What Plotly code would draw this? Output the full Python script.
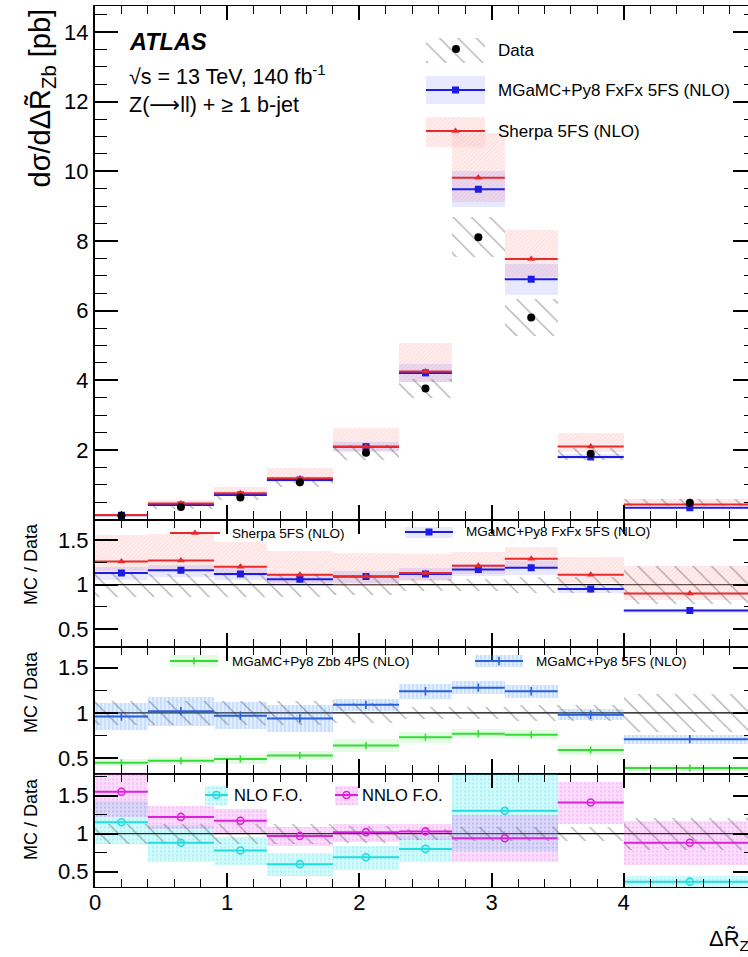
import plotly.graph_objects as go

# ---------------------------------------------------------------- data
# Bin edges of the ΔR̃_Zb measurement
bin_edges = [0.0, 0.4, 0.9, 1.3, 1.8, 2.3, 2.7, 3.1, 3.5, 4.0, 5.0]
# Fixed-order predictions are compared in merged bins around the peak
fo_edges = [0.0, 0.4, 0.9, 1.3, 1.8, 2.3, 2.7, 3.5, 4.0, 5.0]

# Unfolded data [pb] and relative total uncertainty
data_xsec = [0.105, 0.36, 0.63, 1.07, 1.92, 3.76, 8.11, 5.80, 1.89, 0.48]
data_rel_unc = [0.13, 0.13, 0.13, 0.13, 0.11, 0.07, 0.07, 0.09, 0.09, 0.21]
data_rel_unc_fo = [0.13, 0.13, 0.13, 0.13, 0.11, 0.07, 0.09, 0.09, 0.21]

# Sherpa 5FS (NLO): MC / Data and relative band
sherpa_ratio = [1.26, 1.27, 1.20, 1.11, 1.09, 1.13, 1.21, 1.29, 1.11, 0.90]
sherpa_unc_up = [0.24, 0.24, 0.24, 0.25, 0.25, 0.19, 0.13, 0.11, 0.18, 0.35]
sherpa_unc_dn = [0.08, 0.08, 0.08, 0.08, 0.08, 0.07, 0.07, 0.07, 0.08, 0.08]

# MGaMC+Py8 FxFx 5FS (NLO): MC / Data and relative band
fxfx_ratio = [1.13, 1.16, 1.12, 1.06, 1.09, 1.12, 1.17, 1.19, 0.95, 0.71]
fxfx_unc = [0.06, 0.06, 0.06, 0.06, 0.06, 0.06, 0.055, 0.065, 0.04, 0.03]

# MGaMC+Py8 Zbb 4FS (NLO) and MGaMC+Py8 5FS (NLO): MC / Data
zbb4fs_ratio = [0.45, 0.47, 0.49, 0.53, 0.64, 0.73, 0.77, 0.76, 0.59, 0.39]
zbb4fs_unc = [0.04, 0.04, 0.05, 0.05, 0.07, 0.06, 0.05, 0.05, 0.05, 0.03]
mg5fs_ratio = [0.96, 1.02, 0.97, 0.94, 1.09, 1.24, 1.28, 1.24, 0.98, 0.71]
mg5fs_unc = [0.15, 0.16, 0.15, 0.15, 0.07, 0.08, 0.07, 0.07, 0.06, 0.05]

# Fixed-order NLO / NNLO: MC / Data (NLO not shown in the 3.5-4.0 bin)
nlo_ratio = [1.15, 0.88, 0.78, 0.60, 0.69, 0.80, 1.30, None, 0.37]
nlo_unc = [0.28, 0.24, 0.18, 0.15, 0.16, 0.17, 0.52, None, 0.08]
nnlo_ratio = [1.55, 1.22, 1.17, 0.97, 1.02, 1.03, 0.94, 1.41, 0.88]
nnlo_unc = [0.33, 0.15, 0.16, 0.12, 0.12, 0.10, 0.31, 0.28, 0.29]

# ---------------------------------------------------------------- style
FONT = "Liberation Sans, Arial, Helvetica, sans-serif"
RED = "#e82a2a"
BLUE = "#1c1ce6"
BLUE2 = "#2a5fd6"
GREEN = "#33dd33"
CYAN = "#22dde0"
MAGENTA = "#dd22dd"

W, H = 748, 957
L, R, T, B = 95, 0, 6, 70
PW, PH = W - L - R, H - T - B


def px(xp):
    return (xp - L) / PW


def py(yp):
    return (T + PH - yp) / PH


def centers(edges):
    return [(a + b) / 2 for a, b in zip(edges[:-1], edges[1:])]


def widths(edges):
    return [b - a for a, b in zip(edges[:-1], edges[1:])]


ctr, wid = centers(bin_edges), widths(bin_edges)
fctr, fwid = centers(fo_edges), widths(fo_edges)

HATCH = dict(shape="\\", fgcolor="rgba(40,40,40,0.75)", bgcolor="rgba(0,0,0,0)",
             size=13, solidity=0.1)
SHERPA_PAT = dict(shape="/", fgcolor="rgba(255,120,120,0.35)",
                  bgcolor="rgba(255,205,205,0.35)", size=3, solidity=0.3)
FXFX_FILL = "rgba(80,80,255,0.13)"
MG5_PAT = dict(shape="|", fgcolor="rgba(70,140,255,0.45)",
               bgcolor="rgba(120,175,255,0.22)", size=4, solidity=0.35)
ZBB_FILL = "rgba(40,230,40,0.13)"
NLO_PAT = dict(shape=".", fgcolor="rgba(0,200,215,0.35)",
               bgcolor="rgba(60,235,240,0.22)", size=4, solidity=0.3)
NNLO_PAT = dict(shape=".", fgcolor="rgba(230,60,230,0.35)",
                bgcolor="rgba(245,120,245,0.25)", size=4, solidity=0.3)

fig = go.Figure()


def band(x, w, lo, hi, xa, ya, color=None, pattern=None):
    keep = [i for i in range(len(x)) if lo[i] is not None]
    marker = dict(line=dict(width=0))
    if pattern is not None:
        marker["color"] = pattern["fgcolor"]
        marker["pattern"] = pattern
    else:
        marker["color"] = color
    fig.add_trace(go.Bar(
        x=[x[i] for i in keep], width=[w[i] for i in keep],
        base=[lo[i] for i in keep], y=[hi[i] - lo[i] for i in keep],
        marker=marker, xaxis=xa, yaxis=ya, hoverinfo="skip"))


def hline(x, w, v, xa, ya, color, symbol, size, open_marker=False, lw=2):
    keep = [i for i in range(len(x)) if v[i] is not None]
    mk = dict(symbol=symbol, size=size, color=color)
    if open_marker or symbol.startswith("line"):
        mk["line"] = dict(color=color, width=1.6)
    fig.add_trace(go.Scatter(
        x=[x[i] for i in keep], y=[v[i] for i in keep], mode="markers",
        marker=mk, xaxis=xa, yaxis=ya,
        error_x=dict(type="data", array=[w[i] / 2 for i in keep],
                     color=color, thickness=lw, width=0)))


# ---------------------------------------------------------------- panel 1
sherpa_xsec = [d * r for d, r in zip(data_xsec, sherpa_ratio)]
fxfx_xsec = [d * r for d, r in zip(data_xsec, fxfx_ratio)]

band(ctr, wid, [s * (1 - d) for s, d in zip(sherpa_xsec, sherpa_unc_dn)],
     [s * (1 + u) for s, u in zip(sherpa_xsec, sherpa_unc_up)], "x", "y",
     pattern=SHERPA_PAT)
band(ctr, wid, [s * (1 - u) for s, u in zip(fxfx_xsec, fxfx_unc)],
     [s * (1 + u) for s, u in zip(fxfx_xsec, fxfx_unc)], "x", "y",
     color=FXFX_FILL)
band(ctr, wid, [d * (1 - u) for d, u in zip(data_xsec, data_rel_unc)],
     [d * (1 + u) for d, u in zip(data_xsec, data_rel_unc)], "x", "y",
     pattern=HATCH)
hline(ctr, wid, fxfx_xsec, "x", "y", BLUE, "square", 7)
hline(ctr, wid, sherpa_xsec, "x", "y", RED, "triangle-up", 7)
fig.add_trace(go.Scatter(x=ctr, y=data_xsec, mode="markers",
                         marker=dict(color="black", size=8),
                         xaxis="x", yaxis="y"))

# ---------------------------------------------------------------- panel 2
band(ctr, wid, [r * (1 - d) for r, d in zip(sherpa_ratio, sherpa_unc_dn)],
     [r * (1 + u) for r, u in zip(sherpa_ratio, sherpa_unc_up)], "x2", "y2",
     pattern=SHERPA_PAT)
band(ctr, wid, [r * (1 - u) for r, u in zip(fxfx_ratio, fxfx_unc)],
     [r * (1 + u) for r, u in zip(fxfx_ratio, fxfx_unc)], "x2", "y2",
     color=FXFX_FILL)
band(ctr, wid, [1 - u for u in data_rel_unc], [1 + u for u in data_rel_unc],
     "x2", "y2", pattern=HATCH)
hline(ctr, wid, fxfx_ratio, "x2", "y2", BLUE, "square", 7)
hline(ctr, wid, sherpa_ratio, "x2", "y2", RED, "triangle-up", 7)

# ---------------------------------------------------------------- panel 3
band(ctr, wid, [r - u for r, u in zip(zbb4fs_ratio, zbb4fs_unc)],
     [r + u for r, u in zip(zbb4fs_ratio, zbb4fs_unc)], "x3", "y3",
     color=ZBB_FILL)
band(ctr, wid, [r - u for r, u in zip(mg5fs_ratio, mg5fs_unc)],
     [r + u for r, u in zip(mg5fs_ratio, mg5fs_unc)], "x3", "y3",
     pattern=MG5_PAT)
band(ctr, wid, [1 - u for u in data_rel_unc], [1 + u for u in data_rel_unc],
     "x3", "y3", pattern=HATCH)
hline(ctr, wid, zbb4fs_ratio, "x3", "y3", GREEN, "line-ns", 5)
hline(ctr, wid, mg5fs_ratio, "x3", "y3", BLUE2, "line-ns", 6)

# ---------------------------------------------------------------- panel 4
band(fctr, fwid, [None if r is None else r - u for r, u in zip(nlo_ratio, nlo_unc)],
     [None if r is None else r + u for r, u in zip(nlo_ratio, nlo_unc)],
     "x4", "y4", pattern=NLO_PAT)
band(fctr, fwid, [r - u for r, u in zip(nnlo_ratio, nnlo_unc)],
     [r + u for r, u in zip(nnlo_ratio, nnlo_unc)], "x4", "y4", pattern=NNLO_PAT)
band(fctr, fwid, [1 - u for u in data_rel_unc_fo], [1 + u for u in data_rel_unc_fo],
     "x4", "y4", pattern=HATCH)
hline(fctr, fwid, nlo_ratio, "x4", "y4", CYAN, "circle-open", 7, open_marker=True)
hline(fctr, fwid, nnlo_ratio, "x4", "y4", MAGENTA, "circle-open", 7, open_marker=True)

# ---------------------------------------------------------------- legend glyphs
# drawn on an overlay axis spanning the whole plot area (0..1 in both directions)
def glyph_box(x0, x1, y0, y1, color=None, pattern=None):
    marker = dict(line=dict(width=0))
    if pattern is not None:
        marker["color"] = pattern["fgcolor"]
        marker["pattern"] = pattern
    else:
        marker["color"] = color
    fig.add_trace(go.Bar(x=[(px(x0) + px(x1)) / 2], width=[px(x1) - px(x0)],
                         base=[py(y1)], y=[py(y0) - py(y1)], marker=marker,
                         xaxis="x5", yaxis="y5", hoverinfo="skip"))


def glyph_line(x0, x1, y, color, symbol, size, open_marker=False):
    mk = dict(symbol=symbol, size=size, color=color)
    if open_marker or symbol.startswith("line"):
        mk["line"] = dict(color=color, width=1.6)
    fig.add_trace(go.Scatter(
        x=[(px(x0) + px(x1)) / 2], y=[py(y)], mode="markers", marker=mk,
        error_x=dict(type="data", array=[(px(x1) - px(x0)) / 2], color=color,
                     thickness=2, width=0),
        xaxis="x5", yaxis="y5"))


glyph_box(426, 485, 38, 63, pattern=HATCH)
fig.add_trace(go.Scatter(x=[px(456)], y=[py(49)], mode="markers",
                         marker=dict(color="black", size=8), xaxis="x5", yaxis="y5"))
glyph_box(426, 485, 76, 104, color=FXFX_FILL)
glyph_line(426, 485, 90, BLUE, "square", 7)
glyph_box(426, 485, 117, 147, pattern=SHERPA_PAT)
glyph_line(426, 485, 131, RED, "triangle-up", 7)

glyph_line(170, 220, 533, RED, "triangle-up", 7)
glyph_box(405, 453, 527, 538, color=FXFX_FILL)
glyph_line(405, 453, 532, BLUE, "square", 7)

glyph_box(170, 218, 655, 667, color=ZBB_FILL)
glyph_line(170, 218, 661, GREEN, "line-ns", 5)
glyph_box(475, 523, 655, 667, pattern=MG5_PAT)
glyph_line(475, 523, 661, BLUE2, "line-ns", 6)

glyph_box(205, 228, 786, 805, pattern=NLO_PAT)
glyph_line(205, 228, 795, CYAN, "circle-open", 7, open_marker=True)
glyph_box(335, 358, 786, 805, pattern=NNLO_PAT)
glyph_line(335, 358, 795, MAGENTA, "circle-open", 7, open_marker=True)

# ---------------------------------------------------------------- axes
panel_px = [(6, 519.5), (519.5, 647), (647, 773.5), (773.5, 887)]
y_ranges = [[0, 14.75], [0.30, 1.73], [0.33, 1.73], [0.30, 1.79]]
y_ticks = [[2, 4, 6, 8, 10, 12, 14], [0.5, 1, 1.5], [0.5, 1, 1.5], [0.5, 1, 1.5]]
y_minor = [0.5, 0.25, 0.25, 0.25]
x_range = [0, 4.94]
x_ticks = [0, 1, 2, 3, 4]

tickfont = dict(family=FONT, size=22, color="black")
layout_axes = {}
for i in range(4):
    top, bot = panel_px[i]
    n = "" if i == 0 else str(i + 1)
    layout_axes["xaxis" + n] = dict(
        domain=[0, 1], range=x_range, anchor="y" + n,
        tickvals=x_ticks, ticks="inside", ticklen=14, tickwidth=1.5,
        minor=dict(ticks="inside", ticklen=8, dtick=0.2, tick0=0, tickwidth=1.3,
                   tickcolor="black"),
        showline=True, linewidth=1.2, linecolor="black", mirror="ticks",
        showgrid=False, zeroline=False, tickcolor="black",
        showticklabels=(i == 3), tickfont=tickfont, ticklabelstandoff=-5)
    layout_axes["yaxis" + n] = dict(
        domain=[py(bot), py(top)], range=y_ranges[i], anchor="x" + n,
        tickvals=y_ticks[i], ticks="inside", ticklen=23, tickwidth=1.5,
        minor=dict(ticks="inside", ticklen=12, dtick=y_minor[i], tick0=0,
                   tickwidth=1.3, tickcolor="black"),
        showline=True, linewidth=2, linecolor="black", mirror=False,
        showgrid=False, zeroline=False, tickcolor="black", tickfont=tickfont)
    # right-hand tick marks (frame edge lies just beyond the visible area)
    layout_axes["yaxis" + str(i + 6)] = dict(
        overlaying="y" + n, anchor="x" + n, side="right", range=y_ranges[i],
        tickvals=y_ticks[i], ticks="inside", ticklen=15, tickwidth=1.5,
        minor=dict(ticks="inside", ticklen=4, dtick=y_minor[i], tick0=0,
                   tickwidth=1.3, tickcolor="black"),
        showticklabels=False, showline=False, showgrid=False, zeroline=False,
        tickcolor="black")
    fig.add_trace(go.Scatter(x=[None], y=[None], xaxis="x" + n,
                             yaxis="y" + str(i + 6), showlegend=False))

layout_axes["xaxis5"] = dict(domain=[0, 1], range=[0, 1], anchor="y5", visible=False)
layout_axes["yaxis5"] = dict(domain=[0, 1], range=[0, 1], anchor="x5", visible=False)

# unity reference lines in the ratio panels
shapes = []
for n in ["2", "3", "4"]:
    shapes.append(dict(type="line", xref="x" + n, yref="y" + n, x0=0, x1=5,
                       y0=1, y1=1, line=dict(color="black", width=1.2),
                       layer="below"))

# ---------------------------------------------------------------- texts
def note(text, x, y, size, xanchor="left", yanchor="middle", angle=0):
    return dict(text=text, x=px(x), y=py(y), xref="paper", yref="paper",
                xanchor=xanchor, yanchor=yanchor, textangle=angle,
                showarrow=False, font=dict(family=FONT, size=size, color="black"))


ARROW = '<span style="font-family:DejaVu Sans">⟶</span>'

annotations = [
    note("<b><i>ATLAS</i></b>", 127, 42, 23.5),
    note("√s = 13 TeV, 140 fb<sup>-1</sup>", 127, 75, 21.5),
    note("Z(" + ARROW + "ll) + ≥ 1 b-jet", 127, 105, 21.5),
    note("Data", 496, 50, 17),
    note("MGaMC+Py8 FxFx 5FS (NLO)", 496, 90, 17),
    note("Sherpa 5FS (NLO)", 496, 131, 17),
    note("Sherpa 5FS (NLO)", 230, 533, 13.5),
    note("MGaMC+Py8 FxFx 5FS (NLO)", 464, 532, 13.5),
    note("MGaMC+Py8 Zbb 4FS (NLO)", 230, 661, 13.5),
    note("MGaMC+Py8 5FS (NLO)", 534, 661, 13.5),
    note("NLO F.O.", 232, 795, 16.5),
    note("NNLO F.O.", 360, 795, 16.5),
    note("dσ/dΔR̃<sub>Zb</sub> [pb]", 41, 7, 29, xanchor="center",
         yanchor="top", angle=-90),
    note("MC / Data", 31, 521, 18, xanchor="center", yanchor="top", angle=-90),
    note("MC / Data", 31, 649, 18, xanchor="center", yanchor="top", angle=-90),
    note("MC / Data", 31, 776, 18, xanchor="center", yanchor="top", angle=-90),
    note("ΔR̃<sub>Zb</sub>", 760, 940, 22, xanchor="right"),
]

fig.update_layout(
    width=W, height=H, margin=dict(l=L, r=R, t=T, b=B, pad=0),
    paper_bgcolor="white", plot_bgcolor="rgba(0,0,0,0)",
    barmode="overlay", bargap=0, showlegend=False,
    font=dict(family=FONT, color="black"),
    shapes=shapes, annotations=annotations, **layout_axes)

fig.write_html("out.html")
